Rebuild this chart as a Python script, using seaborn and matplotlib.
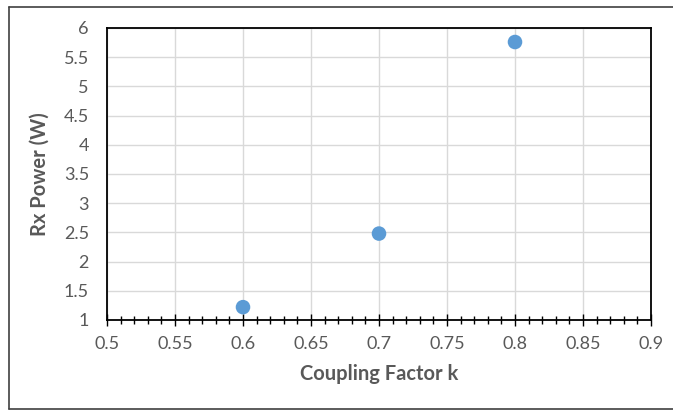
import matplotlib

matplotlib.use('Agg')
import matplotlib.pyplot as plt
from matplotlib.lines import Line2D
from matplotlib.ticker import MultipleLocator
import seaborn as sns
import pandas as pd

# 数据
coupling_k = [0.6, 0.7, 0.8]
rx_power_w = [1.22, 2.48, 5.76]

df = pd.DataFrame({'k': coupling_k, 'power': rx_power_w})

sns.set_style("whitegrid")
plt.rcParams['font.family'] = ['Lato', 'DejaVu Sans']

fig = plt.figure(figsize=(6.73, 4.12), dpi=100)
ax = fig.add_axes([107 / 673, 92 / 412, 544 / 673, 292 / 412])

sns.scatterplot(data=df, x='k', y='power', ax=ax, color='#5B9BD5', s=110,
                edgecolor='none', zorder=3, legend=False)

ax.set_xlim(0.5, 0.9)
ax.set_ylim(1, 6)
ax.xaxis.set_minor_locator(MultipleLocator(0.01))
ax.set_xticks([0.5, 0.55, 0.6, 0.65, 0.7, 0.75, 0.8, 0.85, 0.9])
ax.set_xticklabels(['0.5', '0.55', '0.6', '0.65', '0.7', '0.75', '0.8', '0.85', '0.9'])
ax.set_yticks([1, 1.5, 2, 2.5, 3, 3.5, 4, 4.5, 5, 5.5, 6])
ax.set_yticklabels(['1', '1.5', '2', '2.5', '3', '3.5', '4', '4.5', '5', '5.5', '6'])

ax.grid(True, which='major', color='#D9D9D9', linewidth=1)
ax.grid(False, which='minor')
for side in ['left', 'right', 'top', 'bottom']:
    ax.spines[side].set_visible(True)
    ax.spines[side].set_color('black')
    ax.spines[side].set_linewidth(1.3)

ax.tick_params(axis='x', which='major', direction='inout', length=9, width=1,
               color='black', labelsize=13, labelcolor='#595959', pad=7, bottom=True)
ax.tick_params(axis='x', which='minor', direction='inout', length=6, width=1,
               color='black', bottom=True)
ax.tick_params(axis='y', which='both', length=0, labelsize=13, labelcolor='#595959', pad=13)

ax.set_xlabel('Coupling Factor k', fontsize=14.5, fontweight='bold', color='#595959', labelpad=9)
ax.set_ylabel('Rx Power (W)', fontsize=14.5, fontweight='bold', color='#595959', labelpad=10)

# 外框（右侧超出画面）
for xs, ys in [([9 / 673, 9 / 673], [3 / 412, 405 / 412]),
               ([9 / 673, 1], [405 / 412, 405 / 412]),
               ([9 / 673, 1], [3 / 412, 3 / 412])]:
    fig.add_artist(Line2D(xs, ys, transform=fig.transFigure, color='#404040', linewidth=1.2))

fig.savefig('out.png', dpi=100)
plt.close(fig)
